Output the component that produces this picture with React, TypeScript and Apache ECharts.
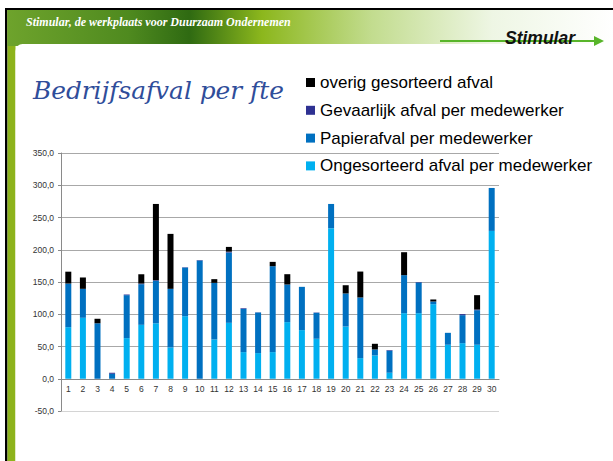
import React, { useEffect, useRef } from "react";
import * as echarts from "echarts";

const categories = ["1","2","3","4","5","6","7","8","9","10","11","12","13","14","15","16","17","18","19","20","21","22","23","24","25","26","27","28","29","30"];
const yTicks = [-50, 0, 50, 100, 150, 200, 250, 300, 350];

const ongesorteerd = [80, 94.5, 0, 0, 63, 83.6, 86, 48.5, 97, 0, 61, 86.7, 41.3, 39.8, 41.3, 87.8, 75.4, 62, 233.4, 81, 32, 36.1, 9.3, 101.7, 101.7, 115.6, 52.7, 55.2, 52.7, 229.2];
const papier = [67.6, 44.9, 86, 7.7, 66.6, 63, 65.8, 90.9, 75.4, 183.3, 87.7, 109, 67.1, 62.9, 133.2, 58.3, 67.1, 40.2, 37.6, 51.2, 94, 9.3, 34.1, 58.9, 47.5, 4.2, 18.5, 43.4, 53.6, 66.6];
const gevaarlijk = [0, 0, 0, 1.6, 1, 1, 1, 0, 0.5, 0.7, 0, 1.3, 1, 0.3, 0, 0, 0, 0.5, 0, 0, 0, 0, 1, 0, 0.8, 0, 0, 1.6, 1, 0];
const overig = [18.4, 17.6, 7, 0, 0, 14.4, 118.2, 85.2, 0, 0, 5.7, 7.4, 0, 0, 6.7, 16, 0, 0, 0, 12.8, 40.2, 8.8, 0, 35.6, 0, 3.1, 0, 0, 22.3, 0];

const seriesNames = [
  "Ongesorteerd afval per medewerker",
  "Papierafval per medewerker",
  "Gevaarlijk afval per medewerker",
  "overig gesorteerd afval",
];
const seriesColors = ["#00b0f0", "#0070c0", "#2e3192", "#000000"];
const seriesData = [ongesorteerd, papier, gevaarlijk, overig];

const title = "Bedrijfsafval per fte";
const headerText = "Stimular, de werkplaats voor Duurzaam Ondernemen";
const logoText = "Stimular";

export default function App() {
  const ref = useRef<HTMLDivElement>(null);
  useEffect(() => {
    if (!ref.current) return;
    const chart = echarts.init(ref.current, null, { renderer: "svg" });
    const gridTop = 153;
    const gridBottom = 50;
    const plotH = 461 - gridTop - gridBottom;
    const zeroOffset = -(plotH * 50) / 400; // lift category axis from -50 to 0
    chart.setOption({
      animation: false,
      backgroundColor: "#ffffff",
      graphic: {
        elements: [
          { type: "rect", z: -10, shape: { x: 5, y: 8, width: 2.5, height: 461 }, style: { fill: "#000" } },
          { type: "rect", z: -10, shape: { x: 7.5, y: 9, width: 8, height: 461 }, style: { fill: "#8db31b" } },
          { type: "rect", z: -10, shape: { x: 5, y: 8, width: 608, height: 2 }, style: { fill: "#000" } },
          {
            type: "rect", z: -9,
            shape: { x: 7.5, y: 10, width: 606, height: 36 },
            style: {
              fill: new echarts.graphic.LinearGradient(0, 0, 1, 0, [
                { offset: 0, color: "#6ea32c" },
                { offset: 0.2, color: "#4f8a1f" },
                { offset: 0.3, color: "#2f6a12" },
                { offset: 0.42, color: "#8cb71d" },
                { offset: 0.6, color: "#c2dc8e" },
                { offset: 0.8, color: "#eef6e4" },
                { offset: 1, color: "#ffffff" },
              ]),
            },
          },
          { type: "rect", z: -8, shape: { x: 15.5, y: 44, width: 598, height: 420, r: [7, 0, 0, 0] }, style: { fill: "#ffffff" } },
          {
            type: "text", x: 26, y: 28, z: -7,
            style: { text: headerText, fill: "#ffffff", font: "italic bold 12px 'Liberation Serif'", textVerticalAlign: "bottom" },
          },
          { type: "line", z: -7, shape: { x1: 440, y1: 41, x2: 598, y2: 41 }, style: { stroke: "#58b52a", lineWidth: 2 } },
          { type: "polygon", z: -7, shape: { points: [[594, 36], [604, 41], [594, 46]] }, style: { fill: "#58b52a" } },
          {
            type: "text", x: 505, y: 47, z: -6,
            style: { text: logoText, fill: "#111", font: "italic bold 17.5px 'Liberation Sans'", textVerticalAlign: "bottom" },
          },
          {
            type: "text", x: 33, y: 103, z: -6,
            style: { text: title, fill: "#2f4d9a", font: "italic 24.8px 'DejaVu Serif'", textVerticalAlign: "bottom" },
          },
        ],
      },
      legend: {
        orient: "vertical",
        left: 306,
        top: 74,
        padding: 0,
        itemWidth: 9,
        itemHeight: 9,
        itemGap: 10.8,
        icon: "rect",
        data: [seriesNames[3], seriesNames[2], seriesNames[1], seriesNames[0]],
        textStyle: { fontFamily: "Liberation Sans", fontSize: 17, lineHeight: 17, color: "#000" },
      },
      grid: { left: 61, right: 114, top: gridTop, bottom: gridBottom },
      xAxis: {
        type: "category",
        data: categories,
        offset: zeroOffset,
        axisLine: { onZero: false, lineStyle: { color: "#8a8a8a", width: 1 } },
        axisTick: { show: false },
        axisLabel: { fontFamily: "Liberation Sans", fontSize: 8.5, color: "#333", margin: 6, interval: 0 },
      },
      yAxis: {
        type: "value",
        min: -50,
        max: 350,
        interval: 50,
        axisLine: { show: true, lineStyle: { color: "#8a8a8a" } },
        axisTick: { show: true, length: 3, lineStyle: { color: "#8a8a8a" } },
        axisLabel: {
          fontFamily: "Liberation Sans",
          fontSize: 8.5,
          color: "#333",
          margin: 7,
          formatter: (v: number) => v.toFixed(1).replace(".", ","),
        },
        splitLine: {
          show: true,
          lineStyle: { color: yTicks.map((t) => (t === -50 ? "#d4d4d4" : "#a8a8a8")), width: 1 },
        },
      },
      series: seriesData.map((d, i) => ({
        name: seriesNames[i],
        type: "bar",
        stack: "total",
        barWidth: 6,
        data: d,
        itemStyle: { color: seriesColors[i] },
      })),
    });
    return () => chart.dispose();
  }, []);
  return <div ref={ref} style={{ position: "absolute", left: 0, top: 0, width: 613, height: 461 }} />;
}
